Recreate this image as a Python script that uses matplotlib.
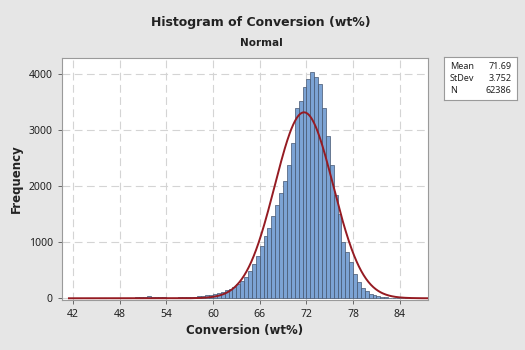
"""
Histogram of conversion with fitted normal curve (Minitab-style layout).
"""

import matplotlib
matplotlib.use("Agg")
import matplotlib.pyplot as plt
import numpy as np

plt.rcParams["font.family"] = ["Noto Sans", "DejaVu Sans"]

# Bin edges (0.5 wt% wide) and counts per bin
bin_left = np.arange(41.5, 87.5, 0.5)
counts = [
    2, 3, 3, 2, 2, 2, 3, 2, 3, 3, 3, 4, 4, 4, 5, 6,           # 41.5 - 49.0
    12, 18, 20, 25, 40, 22, 18, 16, 15,                       # 49.5 - 53.5
    8, 6, 12, 14, 16, 18, 22, 28,                             # 54.0 - 57.5
    35, 45, 55, 65, 80, 95, 115, 140,                         # 58.0 - 61.5
    170, 205, 250, 300, 380,                                  # 62.0 - 64.0
    485, 605, 750, 930, 1110, 1255, 1465, 1670, 1880, 2085, 2380,  # 64.5 - 69.5
    2770, 3390, 3510, 3775, 3920, 4040, 3950, 3830,           # 70.0 - 73.5
    3390, 2890, 2380, 1850, 1500, 995, 820, 640, 440, 290,    # 74.0 - 78.5
    190, 125, 80, 50, 32, 20,                                 # 79.0 - 81.5
    14, 9, 6, 4, 3, 2, 2, 1, 1, 1, 1,                         # 82.0 - 87.0
]
bin_width = 0.5

# Summary statistics of the sample
mean = 71.69
stdev = 3.752
n_obs = 62386

x_ticks = [42, 48, 54, 60, 66, 72, 78, 84]
y_ticks = [0, 1000, 2000, 3000, 4000]

BG = "#e6e6e6"
BAR = "#7ca3d4"
EDGE = "#44556f"
CURVE = "#951b22"
TEXT = "#222222"
BOLD = ["DejaVu Sans"]

fig = plt.figure(figsize=(5.25, 3.5), dpi=100, facecolor=BG)
ax = fig.add_axes([0.118, 0.143, 0.697, 0.691])
ax.set_facecolor("white")

ax.bar(bin_left, counts, width=bin_width, align="edge",
       color=BAR, edgecolor=EDGE, linewidth=0.5, zorder=2)

# Fitted normal density scaled to counts
xs = np.linspace(41.5, 87.5, 600)
ys = n_obs * bin_width / (stdev * np.sqrt(2 * np.pi)) * \
    np.exp(-0.5 * ((xs - mean) / stdev) ** 2)
ax.plot(xs, ys, color=CURVE, linewidth=1.4, zorder=3)

ax.set_xlim(40.6, 87.6)
ax.set_ylim(-30, 4284)
ax.set_xticks(x_ticks)
ax.set_yticks(y_ticks)
ax.grid(True, color="#d4d4d4", linestyle=(0, (7, 4)), linewidth=0.8, zorder=0)
ax.tick_params(labelsize=7.5, colors="#555555", labelcolor=TEXT,
               length=3, width=0.6)
for s in ax.spines.values():
    s.set_color("#9a9a9a")
    s.set_linewidth(0.8)

ax.set_xlabel("Conversion (wt%)", fontsize=8.5, fontweight="bold",
              family=BOLD, color=TEXT, labelpad=3)
ax.set_ylabel("Frequency", fontsize=8.5, fontweight="bold",
              family=BOLD, color=TEXT, labelpad=4)

fig.text(0.497, 0.935, "Histogram of Conversion (wt%)", ha="center",
         va="center", fontsize=9, fontweight="bold", family=BOLD, color=TEXT)
fig.text(0.497, 0.877, "Normal", ha="center", va="center",
         fontsize=7.5, fontweight="bold", family=BOLD, color=TEXT)

# Statistics box
box = fig.add_axes([0.846, 0.714, 0.139, 0.123])
box.set_xticks([])
box.set_yticks([])
box.set_facecolor("white")
for s in box.spines.values():
    s.set_color("#9a9a9a")
    s.set_linewidth(0.8)
rows = [("Mean", f"{mean:.2f}"), ("StDev", f"{stdev:.3f}"), ("N", f"{n_obs}")]
for i, (k, v) in enumerate(rows):
    yy = 0.78 - i * 0.28
    box.text(0.08, yy, k, fontsize=6.5, va="center", ha="left", color=TEXT,
             transform=box.transAxes)
    box.text(0.92, yy, v, fontsize=6.5, va="center", ha="right", color=TEXT,
             transform=box.transAxes)

fig.savefig("out.png", dpi=100, facecolor=BG)
